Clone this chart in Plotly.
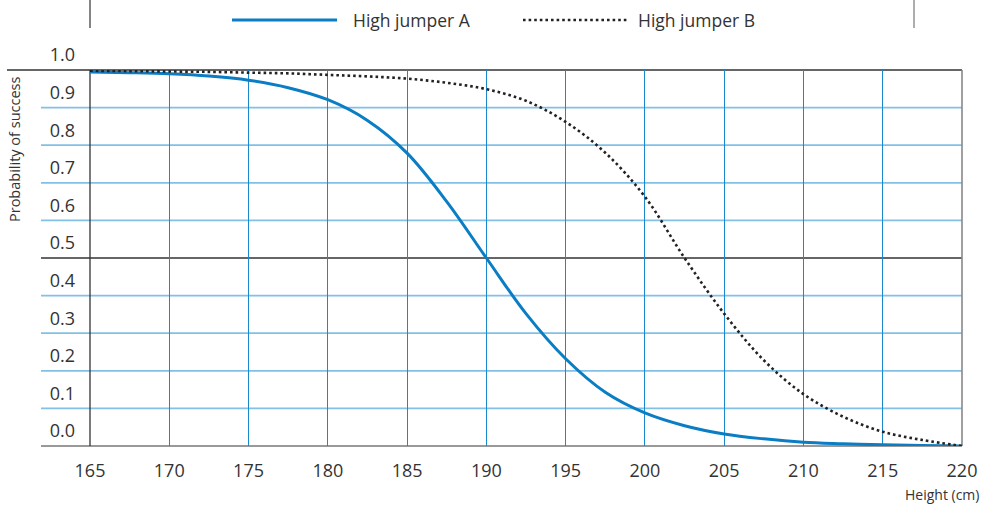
import plotly.graph_objects as go

# ---- data ----
heights = [165, 167.5, 170, 172.5, 175, 177.5, 180, 182.5, 185, 187.5, 190, 192.5,
           195, 197.5, 200, 202.5, 205, 207.5, 210, 212.5, 215, 217.5, 220]
jumper_a = [0.995, 0.993, 0.990, 0.984, 0.973, 0.953, 0.921, 0.866, 0.779, 0.650, 0.500, 0.352,
            0.232, 0.143, 0.088, 0.054, 0.032, 0.019, 0.010, 0.006, 0.003, 0.001, 0.0]
jumper_b = [0.998, 0.997, 0.996, 0.995, 0.993, 0.991, 0.987, 0.983, 0.977, 0.966, 0.949, 0.918,
            0.862, 0.780, 0.663, 0.500, 0.352, 0.228, 0.138, 0.078, 0.038, 0.016, 0.0]
series_names = ["High jumper A", "High jumper B"]
x_ticks = [165, 170, 175, 180, 185, 190, 195, 200, 205, 210, 215, 220]
y_ticks = [0.0, 0.1, 0.2, 0.3, 0.4, 0.5, 0.6, 0.7, 0.8, 0.9, 1.0]
y_tick_labels = ["0.0", "0.1", "0.2", "0.3", "0.4", "0.5", "0.6", "0.7", "0.8", "0.9", "1.0"]

BLUE = "#0a7dc4"
DOT = "#222222"
FONT = "Open Sans"
TXT = "#333333"

W, H = 984, 505
L, R, T, B = 90, 22, 70, 59
pw, ph = W - L - R, H - T - B

def px_x(p):
    return (p - L) / pw

def px_y(p):
    return (H - B - p) / ph

fig = go.Figure()
fig.add_trace(go.Scatter(x=heights, y=jumper_a, mode="lines", name=series_names[0],
                         line=dict(color=BLUE, width=3, shape="spline", smoothing=1.0),
                         cliponaxis=False, showlegend=False))
fig.add_trace(go.Scatter(x=heights, y=jumper_b, mode="lines", name=series_names[1],
                         line=dict(color=DOT, width=2.6, dash="2.6px,3px", shape="spline", smoothing=1.0),
                         cliponaxis=False, showlegend=False))

shapes = []
# horizontal grid lines extending left of the plot
for v in y_ticks:
    if v in (0.5, 1.0):
        col, w = "#333333", 1.3
    elif v == 0.0:
        col, w = "#777777", 1.6
    else:
        col, w = "#82c0e6", 1.8
    x0 = px_x(7) if v == 1.0 else px_x(41)
    shapes.append(dict(type="line", xref="paper", yref="paper", x0=x0, x1=1, y0=v, y1=v,
                       line=dict(color=col, width=w), layer="below"))
# left / right frame lines
shapes.append(dict(type="line", xref="paper", yref="paper", x0=0, x1=0, y0=0, y1=1,
                   line=dict(color="#333333", width=1.3), layer="below"))
shapes.append(dict(type="line", xref="paper", yref="paper", x0=1, x1=1, y0=0, y1=1,
                   line=dict(color="#888888", width=1.6), layer="below"))
# top tick marks
shapes.append(dict(type="line", xref="paper", yref="paper", x0=0, x1=0, y0=px_y(0), y1=px_y(28),
                   line=dict(color="#333333", width=1.2)))
shapes.append(dict(type="line", xref="paper", yref="paper", x0=px_x(914), x1=px_x(914), y0=px_y(0), y1=px_y(28),
                   line=dict(color="#777777", width=1.2)))
# legend samples
ly = px_y(20)
shapes.append(dict(type="line", xref="paper", yref="paper", x0=px_x(232), x1=px_x(337), y0=ly, y1=ly,
                   line=dict(color=BLUE, width=3)))
shapes.append(dict(type="line", xref="paper", yref="paper", x0=px_x(523), x1=px_x(628), y0=ly, y1=ly,
                   line=dict(color=DOT, width=2.6, dash="2.6px,3px")))

annotations = [
    dict(text=series_names[0], xref="paper", yref="paper", x=px_x(351), y=ly, xanchor="left", yanchor="middle",
         showarrow=False, font=dict(family=FONT, size=17.5, color=TXT)),
    dict(text=series_names[1], xref="paper", yref="paper", x=px_x(636), y=ly, xanchor="left", yanchor="middle",
         showarrow=False, font=dict(family=FONT, size=17.5, color=TXT)),
    dict(text="Probability of success", xref="paper", yref="paper", x=px_x(14), y=px_y(150),
         xanchor="center", yanchor="middle", textangle=-90, showarrow=False,
         font=dict(family=FONT, size=14.5, color=TXT)),
    dict(text="Height (cm)", xref="paper", yref="paper", x=px_x(981), y=px_y(494),
         xanchor="right", yanchor="middle", showarrow=False,
         font=dict(family=FONT, size=14, color=TXT)),
]

fig.update_layout(
    width=W, height=H,
    margin=dict(l=L, r=R, t=T, b=B, pad=0, autoexpand=False),
    paper_bgcolor="white", plot_bgcolor="white",
    showlegend=False,
    shapes=shapes, annotations=annotations,
    font=dict(family=FONT, color=TXT),
)
fig.update_xaxes(range=[165, 220], tickvals=x_ticks, ticktext=[str(t) for t in x_ticks],
                 showgrid=True, gridcolor="#1a88cc", gridwidth=1, zeroline=False, showline=False,
                 automargin=False,
                 ticks="", tickfont=dict(family=FONT, size=18, color=TXT), ticklabelstandoff=12)
fig.update_yaxes(range=[0, 1], tickvals=y_ticks, ticktext=y_tick_labels,
                 showgrid=False, zeroline=False, showline=False, ticks="", automargin=False,
                 tickfont=dict(family=FONT, size=18, color=TXT), ticklabelstandoff=14, ticklabelshift=-15)

fig.write_html("out.html", config={"displayModeBar": False},
               post_script="document.body.style.margin='0';document.body.style.overflow='hidden';")
